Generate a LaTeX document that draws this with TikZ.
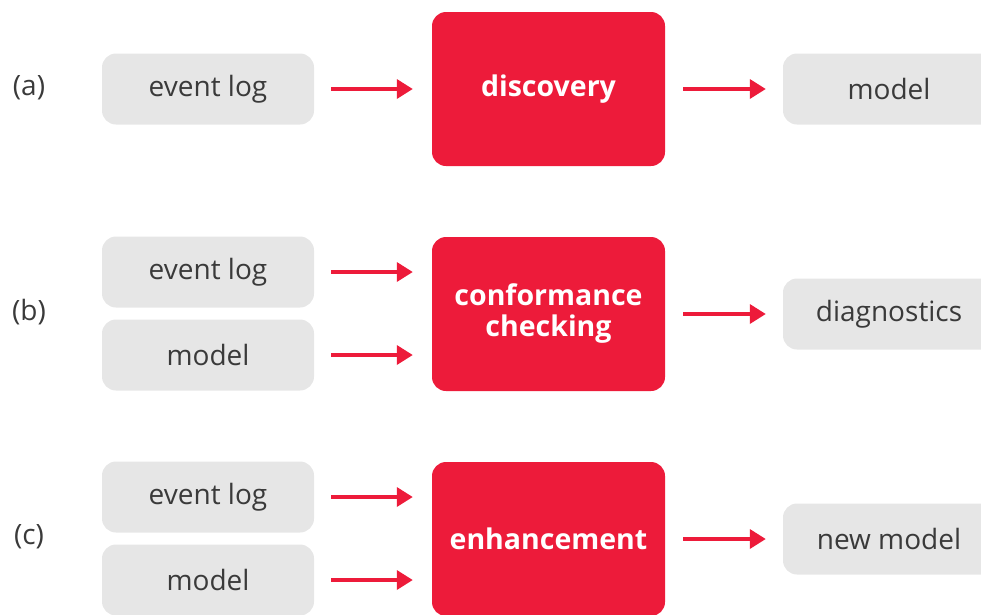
\documentclass[tikz,border=0pt]{standalone}
\usepackage{fontspec}
\setmainfont{Open Sans}
\usetikzlibrary{arrows.meta,positioning}
\definecolor{pmred}{HTML}{ED1B3A}
\definecolor{pmgray}{HTML}{E6E6E6}
\definecolor{pmtext}{HTML}{3A3A3A}
\tikzset{
	data/.style={fill=pmgray, rounded corners=14pt, minimum width=212pt, minimum height=71pt,
		text=pmtext, font=\fontsize{28}{32}\selectfont, inner sep=0pt},
	task/.style={fill=pmred, rounded corners=14pt, minimum width=233pt, minimum height=154pt,
		text=white, font=\fontsize{28.5}{32}\selectfont\bfseries, align=center, inner sep=0pt},
	flow/.style={draw=pmred, line width=3.5pt, -{Triangle[length=16pt,width=19pt]}},
	tag/.style={text=pmtext, font=\fontsize{28}{32}\selectfont},
}
\begin{document}
\begin{tikzpicture}[x=1pt, y=-1pt]
		\useasboundingbox (0,0) rectangle (981,614);
		\clip (0,0) rectangle (981,614);
		%%%%% (a) %%%%%
		\node[tag] (taga) at (29,88) {(a)};
		\node[data] (loga) at (208,89) {event log};
		\node[task] (disc) at (548.5,89) {discovery};
		\node[data] (moda) at (889,89) {model};
		\draw[flow, shorten <=17pt, shorten >=19pt] (loga) -- (disc);
		\draw[flow, shorten <=18pt, shorten >=17pt] (disc) -- (moda);
		
		%%%%% (b) %%%%%
		\node[tag] (tagb) at (29,312) {(b)};
		\node[data] (logb) at (208,272) {event log};
		\node[data] (modb) at (208,355) {model};
		\node[task] (conf) at (548.5,314) {conformance\\[-1pt]checking};
		\node[data] (diag) at (889,314) {diagnostics};
		\draw[flow, shorten <=17pt, shorten >=19pt] (logb) -- (logb -| conf.west);
		\draw[flow, shorten <=17pt, shorten >=19pt] (modb) -- (modb -| conf.west);
		\draw[flow, shorten <=18pt, shorten >=17pt] (conf) -- (diag);
		
		%%%%% (c) %%%%%
		\node[tag] (tagc) at (29,537) {(c)};
		\node[data] (logc) at (208,497) {event log};
		\node[data] (modc) at (208,580) {model};
		\node[task] (enh) at (548.5,539) {enhancement};
		\node[data] (newm) at (889,539) {new model};
		\draw[flow, shorten <=17pt, shorten >=19pt] (logc) -- (logc -| enh.west);
		\draw[flow, shorten <=17pt, shorten >=19pt] (modc) -- (modc -| enh.west);
		\draw[flow, shorten <=18pt, shorten >=17pt] (enh) -- (newm);
\end{tikzpicture}
\end{document}
